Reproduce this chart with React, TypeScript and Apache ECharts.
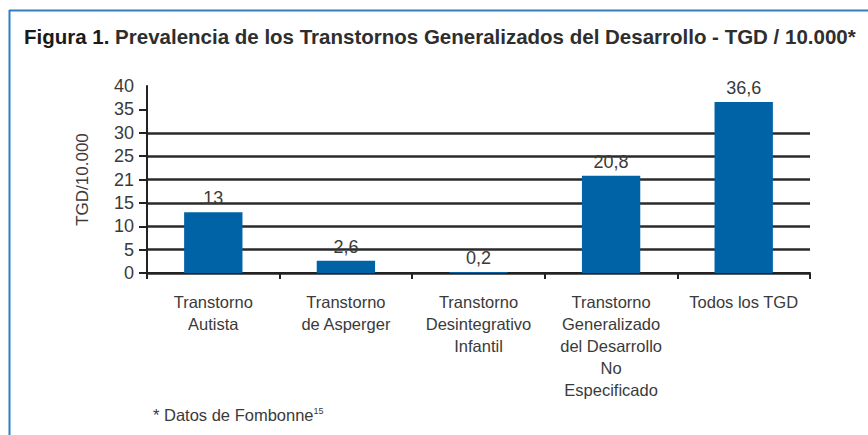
import React, { useEffect, useRef } from "react";
import * as echarts from "echarts";

const categories = [
  "Transtorno\nAutista",
  "Transtorno\nde Asperger",
  "Transtorno\nDesintegrativo\nInfantil",
  "Transtorno\nGeneralizado\ndel Desarrollo\nNo\nEspecificado",
  "Todos los TGD",
];
const values = [13, 2.6, 0.2, 20.8, 36.6];
const yTickValues = [0, 5, 10, 15, 20, 25, 30, 35, 40];
const yTickLabels = ["0", "5", "10", "15", "21", "25", "30", "35", "40"];
const titleBold = "Figura 1.";
const titleRest = " Prevalencia de los Transtornos Generalizados del Desarrollo - TGD / 10.000*";
const yAxisName = "TGD/10.000";
const footnote = "* Datos de Fombonne";
const footnoteSup = "15";

export default function App() {
  const ref = useRef<HTMLDivElement>(null);
  useEffect(() => {
    if (!ref.current) return;
    const chart = echarts.init(ref.current, null, { renderer: "svg" });
    const font = "'Liberation Sans', Arial, sans-serif";
    chart.setOption({
      animation: false,
      textStyle: { fontFamily: font },
      grid: { left: 147, right: 58, top: 86, bottom: 162, containLabel: false },
      xAxis: {
        type: "category",
        data: categories,
        axisLine: { show: true, lineStyle: { color: "#222", width: 2 } },
        axisTick: { show: true, alignWithLabel: false, length: 6, lineStyle: { color: "#222", width: 2 } },
        axisLabel: { color: "#3a3a3a", fontSize: 16.5, lineHeight: 22, margin: 18, interval: 0 },
      },
      yAxis: {
        type: "value",
        min: 0,
        max: 40,
        interval: 5,
        name: yAxisName,
        nameLocation: "middle",
        nameGap: 56,
        nameRotate: 90,
        nameTextStyle: { color: "#3a3a3a", fontSize: 17 },
        axisLine: { show: true, lineStyle: { color: "#222", width: 2 } },
        axisTick: {
          show: true,
          inside: false,
          length: 8,
          customValues: yTickValues.slice(0, 8),
          lineStyle: { color: "#222", width: 2 },
        },
        axisLabel: {
          color: "#3a3a3a",
          fontSize: 18,
          margin: 13,
          formatter: (v: number) => {
            const i = yTickValues.indexOf(v);
            return i >= 0 ? yTickLabels[i] : String(v);
          },
        },
        splitLine: { show: true, showMaxLine: false, lineStyle: { color: "#2a2a2a", width: 2.5 } },
      },
      series: [
        {
          type: "bar",
          data: values,
          barWidth: "44%",
          itemStyle: { color: "#0063a6" },
          label: {
            show: true,
            position: "top",
            distance: 5,
            color: "#3a3a3a",
            fontSize: 18,
            formatter: (p: any) => String(p.value).replace(".", ","),
          },
          z: 3,
        },
      ],
      graphic: [
        {
          type: "line",
          shape: { x1: 9.5, y1: 10, x2: 9.5, y2: 435 },
          style: { stroke: "#2f7fc1", lineWidth: 2 },
        },
        {
          type: "line",
          shape: { x1: 9, y1: 10.5, x2: 868, y2: 10.5 },
          style: { stroke: "#2f7fc1", lineWidth: 2 },
        },
        {
          type: "text",
          x: 24,
          y: 36,
          style: {
            text: "{b|" + titleBold + "}{r|" + titleRest + "}",
            verticalAlign: "middle",
            rich: {
              b: { fontFamily: font, fontSize: 20.5, fontWeight: "bold", fill: "#1a1a1a" },
              r: { fontFamily: font, fontSize: 20.5, fontWeight: "bold", fill: "#2e2e2e" },
            },
          },
        },
        {
          type: "text",
          x: 153,
          y: 415,
          style: {
            text: "{t|" + footnote + "}{s|" + footnoteSup + "}",
            verticalAlign: "middle",
            rich: {
              t: { fontFamily: font, fontSize: 16.5, fill: "#3a3a3a" },
              s: { fontFamily: font, fontSize: 9, fill: "#3a3a3a", verticalAlign: "top", padding: [0, 0, 8, 0] },
            },
          },
        },
      ],
    });
    return () => chart.dispose();
  }, []);
  return (
    <div
      ref={ref}
      style={{ position: "fixed", left: 0, top: 0, width: 868, height: 435, background: "#fff" }}
    />
  );
}
